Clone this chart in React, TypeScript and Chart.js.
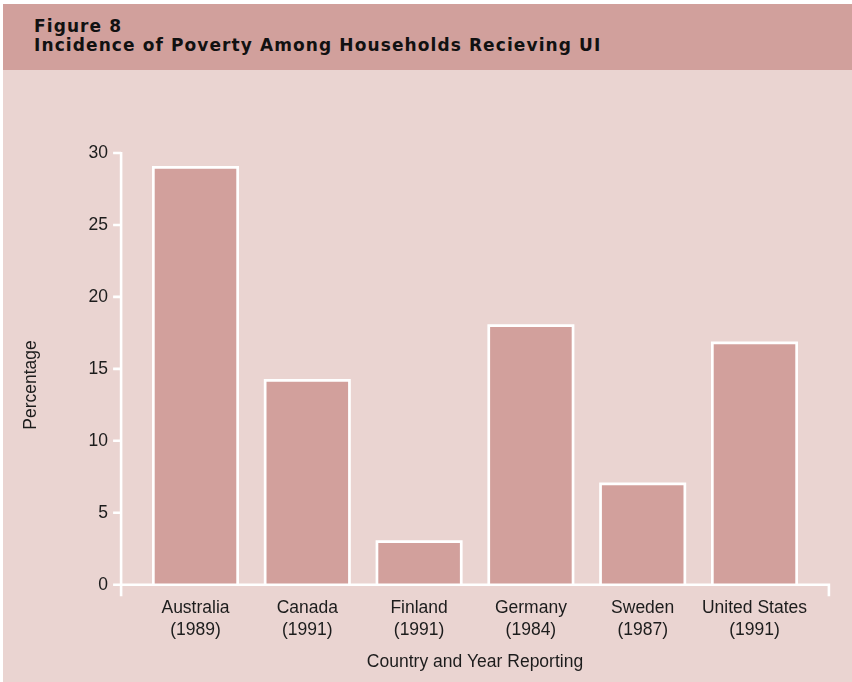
import React, { useEffect, useRef } from "react";
import { Chart, registerables } from "chart.js";

Chart.register(...registerables);

// Incidence of poverty among households receiving unemployment insurance
const countries: string[] = ["Australia", "Canada", "Finland", "Germany", "Sweden", "United States"];
const reportYears: string[] = ["(1989)", "(1991)", "(1991)", "(1984)", "(1987)", "(1991)"];
const povertyPct: number[] = [29, 14.2, 3, 18, 7, 16.8];
const yTicks: number[] = [0, 5, 10, 15, 20, 25, 30];

const FONT = "'Liberation Sans', Arial, sans-serif";
const TITLE_FONT = "'DejaVu Sans', Verdana, sans-serif";
const TEXT = "#1c1c1c";
const HEADER_BG = "#d1a09c";
const BODY_BG = "#ead4d1";
const BAR_FILL = "#d2a09c";

// White outline centred on each bar edge (left, top, right)
const barOutline = {
  id: "barOutline",
  afterDatasetsDraw(chart: any) {
    const { ctx } = chart;
    const meta = chart.getDatasetMeta(0);
    ctx.save();
    ctx.strokeStyle = "#ffffff";
    ctx.lineWidth = 2.7;
    ctx.lineJoin = "miter";
    for (const bar of meta.data) {
      const { x, y, base, width } = bar.getProps(["x", "y", "base", "width"], true);
      const l = x - width / 2;
      const r = x + width / 2;
      ctx.beginPath();
      ctx.moveTo(l, base);
      ctx.lineTo(l, y);
      ctx.lineTo(r, y);
      ctx.lineTo(r, base);
      ctx.stroke();
    }
    ctx.restore();
  },
};

// Axis frame: y axis offset to the left of the plot, x axis with end ticks
const axisFrame = {
  id: "axisFrame",
  afterDatasetsDraw(chart: any) {
    const { ctx, chartArea, scales } = chart;
    const y = scales.y;
    const y0 = y.getPixelForValue(0);
    const yTop = y.getPixelForValue(30);
    const axisX = chartArea.left - 18.5;
    const rightX = chartArea.right + 18.5;
    ctx.save();
    ctx.strokeStyle = "#ffffff";
    ctx.lineWidth = 2.6;
    ctx.lineCap = "butt";
    ctx.beginPath();
    ctx.moveTo(axisX, yTop - 1);
    ctx.lineTo(axisX, y0 + 11.5);
    ctx.moveTo(axisX - 8, y0);
    ctx.lineTo(rightX + 1.3, y0);
    ctx.moveTo(rightX, y0);
    ctx.lineTo(rightX, y0 + 11.5);
    for (const v of yTicks) {
      const py = y.getPixelForValue(v);
      ctx.moveTo(axisX - 8, py);
      ctx.lineTo(axisX, py);
    }
    ctx.stroke();

    // vertical axis title
    ctx.fillStyle = TEXT;
    ctx.font = `17.5px ${FONT}`;
    ctx.textAlign = "center";
    ctx.textBaseline = "middle";
    ctx.translate(31, 385);
    ctx.rotate(-Math.PI / 2);
    ctx.fillText("Percentage", 0, 0);
    ctx.restore();
  },
};

function PovertyChart() {
  const ref = useRef<HTMLCanvasElement | null>(null);

  useEffect(() => {
    if (!ref.current) return;
    const chart = new Chart(ref.current, {
      type: "bar",
      data: {
        labels: countries.map((c, i) => [c, reportYears[i]]),
        datasets: [
          {
            data: povertyPct,
            backgroundColor: BAR_FILL,
            borderWidth: 0,
            categoryPercentage: 1,
            barPercentage: 0.754,
          },
        ],
      },
      options: {
        responsive: false,
        animation: false,
        events: [],
        layout: { padding: { top: 153, right: 41.6, bottom: 0, left: 0 } },
        plugins: { legend: { display: false }, tooltip: { enabled: false } },
        scales: {
          x: {
            grid: { display: false, drawTicks: false },
            border: { display: false },
            ticks: {
              color: TEXT,
              padding: 12.8,
              maxRotation: 0,
              autoSkip: false,
              font: { family: FONT, size: 17.5, lineHeight: 1.257 },
            },
            title: {
              display: true,
              text: "Country and Year Reporting",
              color: TEXT,
              font: { family: FONT, size: 17.5, lineHeight: 1.2 },
              padding: { top: 0, bottom: 9.5 },
            },
            afterFit(scale: any) {
              scale.height = 97.3;
            },
          },
          y: {
            min: 0,
            max: 30,
            grid: { display: false, drawTicks: false },
            border: { display: false },
            ticks: {
              stepSize: 5,
              color: TEXT,
              padding: 31.6,
              font: { family: FONT, size: 17.5 },
            },
            afterFit(scale: any) {
              scale.width = 139.6;
            },
          },
        },
      },
      plugins: [barOutline, axisFrame],
    });
    return () => chart.destroy();
  }, []);

  return (
    <canvas
      ref={ref}
      width={852}
      height={682}
      style={{ position: "absolute", left: 0, top: 0, width: 852, height: 682 }}
    />
  );
}

export default function App() {
  useEffect(() => {
    document.body.style.margin = "0";
  }, []);

  return (
    <div style={{ position: "relative", width: 852, height: 682, background: "#ffffff", overflow: "hidden" }}>
      <div style={{ position: "absolute", left: 3, top: 4, width: 849, height: 678, background: BODY_BG }} />
      <div style={{ position: "absolute", left: 3, top: 4, width: 849, height: 66, background: HEADER_BG }}>
        <div
          style={{
            position: "absolute",
            left: 31,
            top: 13.3,
            fontFamily: TITLE_FONT,
            fontWeight: "bold",
            fontSize: 17,
            lineHeight: "19px",
            letterSpacing: "1.1px",
            color: "#111111",
            whiteSpace: "nowrap",
          }}
        >
          <div>Figure 8</div>
          <div>Incidence of Poverty Among Households Recieving UI</div>
        </div>
      </div>
      <PovertyChart />
    </div>
  );
}
